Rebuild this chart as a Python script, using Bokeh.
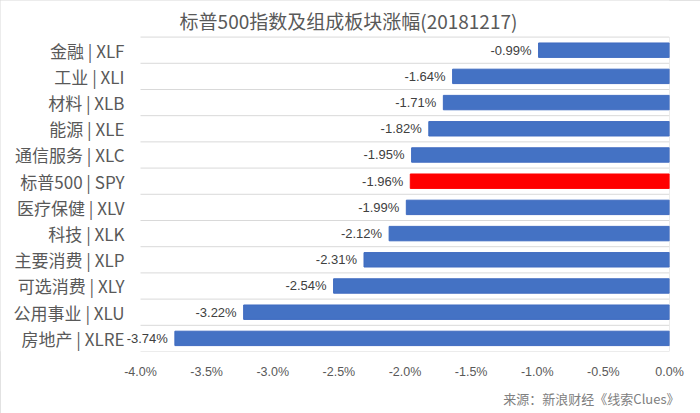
from bokeh.plotting import figure
from bokeh.models import ColumnDataSource, FixedTicker, PrintfTickFormatter, Range1d, Title
from bokeh.core.properties import value
from bokeh.embed import file_html
from bokeh.resources import INLINE

# ---- data ----
categories = ["金融 | XLF", "工业 | XLI", "材料 | XLB", "能源 | XLE", "通信服务 | XLC",
              "标普500 | SPY", "医疗保健 | XLV", "科技 | XLK", "主要消费 | XLP",
              "可选消费 | XLY", "公用事业 | XLU", "房地产 | XLRE"]
changes = [-0.99, -1.64, -1.71, -1.82, -1.95, -1.96, -1.99, -2.12, -2.31, -2.54, -3.22, -3.74]
highlight = "标普500 | SPY"
x_ticks = [-4.0, -3.5, -3.0, -2.5, -2.0, -1.5, -1.0, -0.5, 0.0]
title_text = "标普500指数及组成板块涨幅(20181217)"
source_text = "来源：新浪财经《线索Clues》"

# ---- layout constants (pixels) ----
W, H = 700, 413
RIGHT_BORDER = 31
BOTTOM_BORDER = 58
AXIS_LEFT_PX = 140          # where the first tick sits inside the frame
ROW_PX = 26.5
FRAME_W = W - RIGHT_BORDER
FRAME_H = H - BOTTOM_BORDER
px_per_unit = (FRAME_W - AXIS_LEFT_PX) / (x_ticks[-1] - x_ticks[0])

n = len(categories)
ypos = [n - i - 0.5 for i in range(n)]
bar_colors = ["#FF0000" if c == highlight else "#4472C4" for c in categories]
line_colors = ["#FF0000" if c == highlight else "#3F6BC0" for c in categories]
labels = [f"{v:.2f}%" for v in changes]

x_start = x_ticks[0] - AXIS_LEFT_PX / px_per_unit
y_top = FRAME_H / ROW_PX

src = ColumnDataSource(dict(y=ypos, v=changes, color=bar_colors, lc=line_colors,
                            lab=labels, cat=categories))

CJK = "Noto Sans CJK SC"
NUM = "Liberation Sans"

p = figure(width=W, height=H, output_backend="svg", toolbar_location=None,
           x_range=Range1d(x_start, x_ticks[-1]), y_range=Range1d(0, y_top),
           min_border_left=0, min_border_right=RIGHT_BORDER, min_border_top=0,
           min_border_bottom=BOTTOM_BORDER)
p.outline_line_color = None
p.background_fill_color = "white"
p.border_fill_color = "white"
p.styles = {"outline": "1px solid #d9d9d9", "outline-offset": "-1px"}
p.xgrid.visible = False
p.ygrid.visible = False
p.yaxis.visible = False

# row separators and zero line
bounds = list(range(0, n + 1))
p.segment(x0=[x_ticks[0]] * len(bounds), x1=[x_ticks[-1]] * len(bounds),
          y0=bounds, y1=bounds, line_color="#d9d9d9", line_width=1)
p.segment(x0=[x_ticks[-1]], x1=[x_ticks[-1]], y0=[0], y1=[n], line_color="#d9d9d9", line_width=1)

# bars
p.hbar(y="y", left=0, right="v", height=0.55, fill_color="color", line_color="lc",
       line_width=1, source=src)

# data labels
p.text(x="v", y="y", text="lab", source=src, x_offset=-7, text_align="right",
       text_baseline="middle", text_font=value(NUM), text_font_size="13px",
       text_color="#404040")

# category labels
p.text(x=x_ticks[0], y="y", text="cat", source=src, x_offset=-16, text_align="right",
       text_baseline="middle", text_font=value(CJK), text_font_size="17px",
       text_color="#595959")

# title
p.text(x=[x_start + 348 / px_per_unit], y=[y_top - 20 / ROW_PX], text=[title_text],
       text_align="center", text_baseline="middle", text_font=value(CJK),
       text_font_size="19px", text_color="#595959")

# x axis
xa = p.xaxis[0]
xa.ticker = FixedTicker(ticks=x_ticks)
xa.formatter = PrintfTickFormatter(format="%.1f%%")
xa.axis_line_color = None
xa.major_tick_line_color = None
xa.minor_tick_line_color = None
xa.major_tick_out = 0
xa.major_tick_in = 0
xa.major_label_standoff = 13
xa.major_label_text_font = NUM
xa.major_label_text_font_size = "12.5px"
xa.major_label_text_color = "#595959"

# source note
p.add_layout(Title(text=source_text, align="right", offset=-10, standoff=11,
                   text_font=CJK, text_font_size="13px", text_font_style="normal",
                   text_color="#808080"), "below")

open("out.html", "w").write(file_html(p, INLINE))
